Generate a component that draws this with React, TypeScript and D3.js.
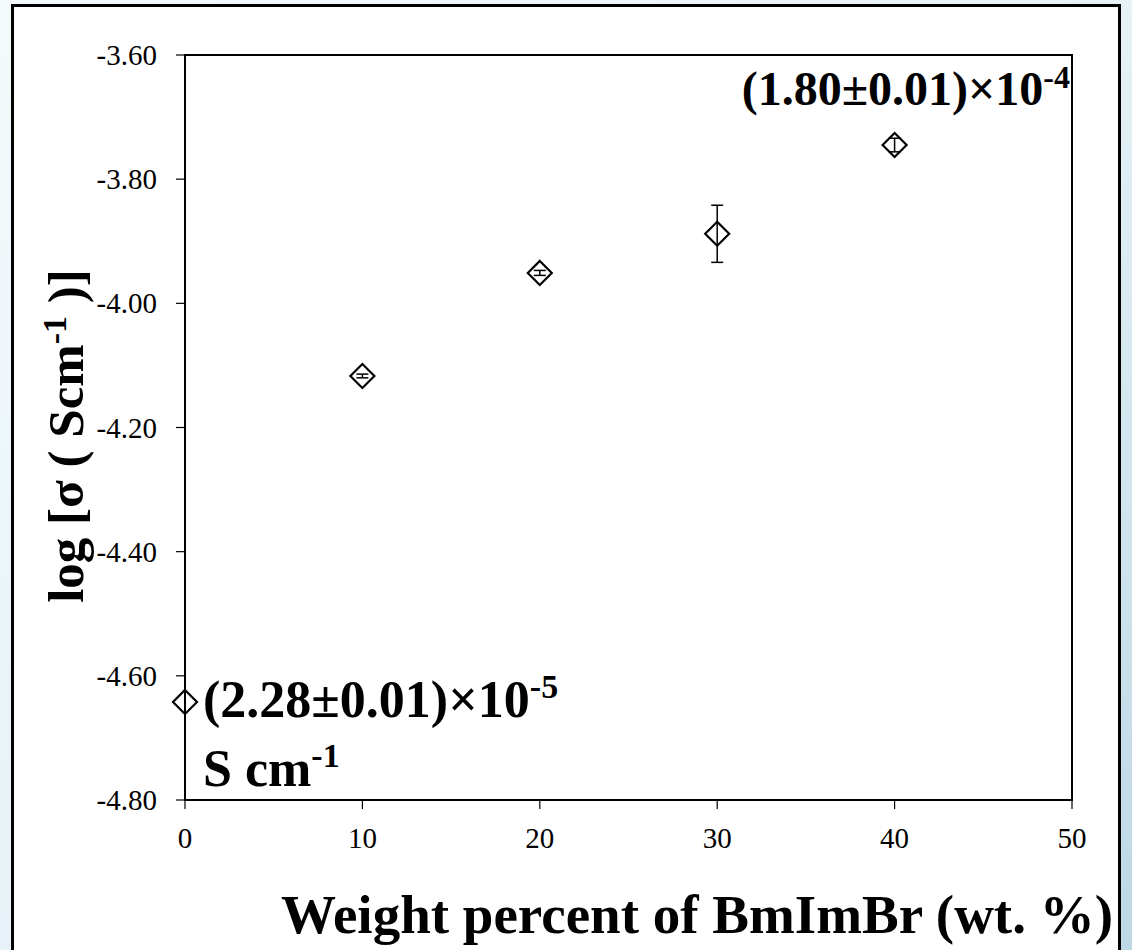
import React from "react";
import * as d3 from "d3";

const xValues = [0, 10, 20, 30, 40];
const yValues = [-4.642, -4.117, -3.951, -3.888, -3.745];
const yErrors = [0, 0.003, 0.004, 0.046, 0.011];
const xTicks = [0, 10, 20, 30, 40, 50];
const yTicks = [-4.8, -4.6, -4.4, -4.2, -4.0, -3.8, -3.6];

const W = 1132;
const H = 950;
const plot = { left: 185, right: 1072, top: 55, bottom: 800 };
const FONT = "'Liberation Serif', 'Times New Roman', serif";

export default function App() {
  const x = d3.scaleLinear().domain([0, 50]).range([plot.left, plot.right]);
  const y = d3.scaleLinear().domain([-4.8, -3.6]).range([plot.bottom, plot.top]);
  const m = 12;
  const cap = 6;
  return (
    <svg width={W} height={H} style={{ position: "absolute", left: 0, top: 0 }} fontFamily={FONT}>
      <defs>
        <linearGradient id="bg" x1="0" y1="0" x2="1" y2="1">
          <stop offset="0" stopColor="#f4fafc" />
          <stop offset="0.5" stopColor="#e6f2f7" />
          <stop offset="1" stopColor="#bcd8e5" />
        </linearGradient>
      </defs>
      <rect x={0} y={0} width={W} height={H} fill="url(#bg)" />
      <rect x={12.5} y={5.5} width={1107} height={H + 10} fill="#ffffff" stroke="#000" strokeWidth={3} />
      {/* plot border */}
      <rect x={plot.left} y={plot.top} width={plot.right - plot.left} height={plot.bottom - plot.top} fill="none" stroke="#000" strokeWidth={2} />
      {/* y ticks */}
      {yTicks.map((t) => (
        <g key={"y" + t}>
          <line x1={plot.left - 9} x2={plot.left} y1={y(t)} y2={y(t)} stroke="#000" strokeWidth={1.2} />
          <text x={157} y={y(t)} dy="0.35em" textAnchor="end" fontSize={29}>
            {t.toFixed(2)}
          </text>
        </g>
      ))}
      {/* x ticks */}
      {xTicks.map((t) => (
        <g key={"x" + t}>
          <line x1={x(t)} x2={x(t)} y1={plot.bottom} y2={plot.bottom + 9} stroke="#000" strokeWidth={1.2} />
          <text x={x(t)} y={848} textAnchor="middle" fontSize={29}>
            {t}
          </text>
        </g>
      ))}
      {/* error bars */}
      {xValues.map((v, i) =>
        yErrors[i] > 0 ? (
          <g key={"e" + i} stroke="#000" strokeWidth={1.5}>
            <line x1={x(v)} x2={x(v)} y1={y(yValues[i] - yErrors[i])} y2={y(yValues[i] + yErrors[i])} />
            <line x1={x(v) - cap} x2={x(v) + cap} y1={y(yValues[i] - yErrors[i])} y2={y(yValues[i] - yErrors[i])} />
            <line x1={x(v) - cap} x2={x(v) + cap} y1={y(yValues[i] + yErrors[i])} y2={y(yValues[i] + yErrors[i])} />
          </g>
        ) : null
      )}
      {/* markers */}
      {xValues.map((v, i) => {
        const cx = x(v);
        const cy = y(yValues[i]);
        return (
          <path
            key={"m" + i}
            d={`M${cx},${cy - m}L${cx + m},${cy}L${cx},${cy + m}L${cx - m},${cy}Z`}
            fill="none"
            stroke="#000"
            strokeWidth={2.2}
          />
        );
      })}
      {/* annotations */}
      <text x={1070} y={105} textAnchor="end" fontSize={48} fontWeight="bold">
        (1.80±0.01)×10<tspan dy={-17} fontSize={32}>-4</tspan>
      </text>
      <text x={203} y={717} fontSize={52} fontWeight="bold">
        (2.28±0.01)×10<tspan dy={-19} fontSize={34}>-5</tspan>
      </text>
      <text x={203} y={786} fontSize={52} fontWeight="bold">
        S cm<tspan dy={-19} fontSize={34}>-1</tspan>
      </text>
      {/* axis titles */}
      <text x={1113} y={933} textAnchor="end" fontSize={55} fontWeight="bold">
        Weight percent of BmImBr (wt. %)
      </text>
      <text transform={`translate(83,436) rotate(-90)`} textAnchor="middle" fontSize={51} fontWeight="bold">
        log [σ ( Scm<tspan dy={-17} fontSize={34}>-1</tspan>
        <tspan dy={17}> )]</tspan>
      </text>
    </svg>
  );
}
